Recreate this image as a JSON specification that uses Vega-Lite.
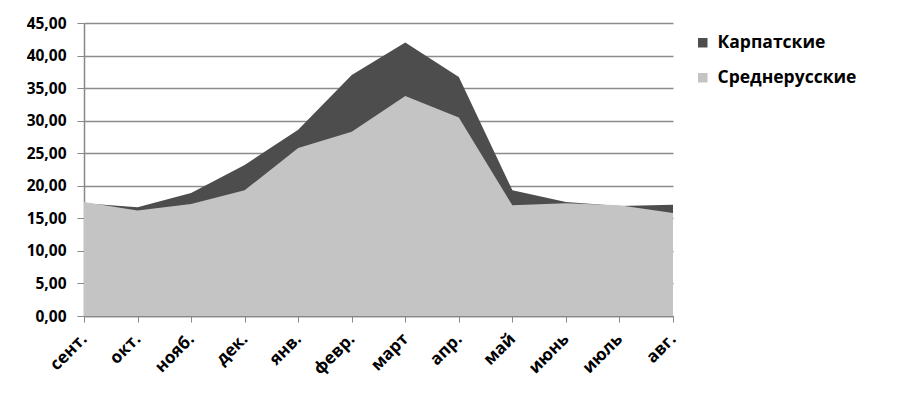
{
  "$schema": "https://vega.github.io/schema/vega-lite/v6.json",
  "autosize": "none",
  "width": 589,
  "height": 293,
  "padding": {"left": 84, "top": 23, "right": 234, "bottom": 86},
  "background": "white",
  "data": {"values": [
    {"month": "сент.", "series": "Карпатские", "value": 17.3},
    {"month": "окт.", "series": "Карпатские", "value": 16.7},
    {"month": "нояб.", "series": "Карпатские", "value": 18.9},
    {"month": "дек.", "series": "Карпатские", "value": 23.2},
    {"month": "янв.", "series": "Карпатские", "value": 28.6},
    {"month": "февр.", "series": "Карпатские", "value": 37.0},
    {"month": "март", "series": "Карпатские", "value": 42.0},
    {"month": "апр.", "series": "Карпатские", "value": 36.7},
    {"month": "май", "series": "Карпатские", "value": 19.3},
    {"month": "июнь", "series": "Карпатские", "value": 17.5},
    {"month": "июль", "series": "Карпатские", "value": 16.9},
    {"month": "авг.", "series": "Карпатские", "value": 17.1},
    {"month": "сент.", "series": "Среднерусские", "value": 17.5},
    {"month": "окт.", "series": "Среднерусские", "value": 16.2},
    {"month": "нояб.", "series": "Среднерусские", "value": 17.2},
    {"month": "дек.", "series": "Среднерусские", "value": 19.3},
    {"month": "янв.", "series": "Среднерусские", "value": 25.8},
    {"month": "февр.", "series": "Среднерусские", "value": 28.3},
    {"month": "март", "series": "Среднерусские", "value": 33.8},
    {"month": "апр.", "series": "Среднерусские", "value": 30.5},
    {"month": "май", "series": "Среднерусские", "value": 17.0},
    {"month": "июнь", "series": "Среднерусские", "value": 17.3},
    {"month": "июль", "series": "Среднерусские", "value": 17.0},
    {"month": "авг.", "series": "Среднерусские", "value": 15.8}
  ]},
  "encoding": {
    "x": {
      "field": "month", "type": "ordinal",
      "sort": ["сент.", "окт.", "нояб.", "дек.", "янв.", "февр.", "март", "апр.", "май", "июнь", "июль", "авг."],
      "scale": {"type": "point", "padding": 0},
      "axis": {
        "title": null, "labelAngle": -45, "labelAlign": "right", "labelBaseline": "middle",
        "labelFont": "Open Sans", "labelFontWeight": "bold", "labelFontSize": 17, "labelColor": "#000",
        "labelPadding": 14, "tickSize": 6, "tickColor": "#888", "domainColor": "#888", "domainWidth": 1.5,
        "grid": false
      }
    },
    "y": {
      "field": "value", "type": "quantitative", "stack": null,
      "scale": {"domain": [0, 45], "nice": false},
      "axis": {
        "title": null, "values": [0, 5, 10, 15, 20, 25, 30, 35, 40, 45],
        "labelExpr": "replace(format(datum.value, '.2f'), '.', ',')",
        "labelFont": "Open Sans", "labelFontWeight": "bold", "labelFontSize": 15.5, "labelColor": "#000",
        "labelPadding": 11, "tickSize": 7, "tickColor": "#888", "domainColor": "#888", "domainWidth": 1.5,
        "grid": true, "gridColor": "#8c8c8c", "gridWidth": 1.5
      }
    },
    "color": {
      "field": "series", "type": "nominal",
      "scale": {"domain": ["Карпатские", "Среднерусские"], "range": ["#4d4d4d", "#c4c4c4"]},
      "legend": {
        "title": null, "orient": "none", "legendX": 610, "legendY": 11,
        "symbolType": "square", "symbolSize": 90, "symbolStrokeWidth": 0,
        "labelFont": "Open Sans", "labelFontWeight": "bold", "labelFontSize": 17.5, "labelColor": "#000",
        "rowPadding": 16, "labelOffset": 6
      }
    }
  },
  "layer": [
    {"transform": [{"filter": "datum.series === 'Карпатские'"}], "mark": {"type": "area", "opacity": 1}},
    {"transform": [{"filter": "datum.series === 'Среднерусские'"}], "mark": {"type": "area", "opacity": 1}}
  ],
  "config": {"view": {"stroke": null}}
}
